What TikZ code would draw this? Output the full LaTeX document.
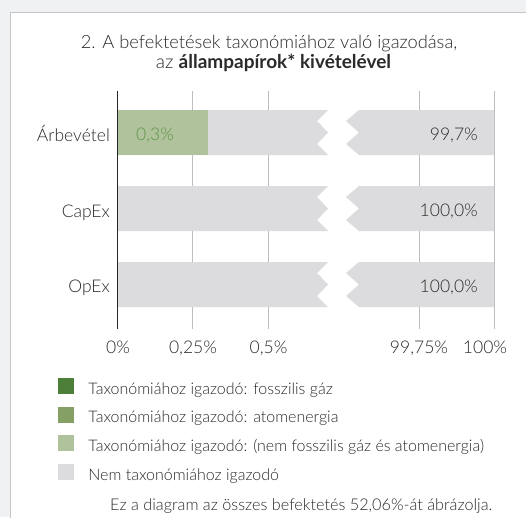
\documentclass[tikz,border=0pt]{standalone}
\usepackage{fontspec}
\setmainfont{Lato}[UprightFont={* Light}, BoldFont={* Bold}]
\usetikzlibrary{positioning}

\definecolor{fossil}{HTML}{4E7F3A}
\definecolor{nuclear}{HTML}{84A064}
\definecolor{aligned}{HTML}{B0C29C}
\definecolor{notaligned}{HTML}{DCDCDE}
\definecolor{valuegreen}{HTML}{5E9546}
\definecolor{pagegray}{HTML}{F0F1F3}
\definecolor{framegray}{HTML}{C6C6C8}
\definecolor{gridgray}{HTML}{BDBDBF}
\definecolor{textgray}{HTML}{2A2A2A}

\tikzset{
    rowlabel/.style={anchor=base east, inner sep=0pt, font=\fontsize{17.5}{20}\selectfont, text=textgray},
    valuelabel/.style={anchor=base east, inner sep=0pt, font=\fontsize{17.5}{20}\selectfont, text=textgray},
    ticklabel/.style={anchor=base, inner sep=0pt, font=\fontsize{17.5}{20}\selectfont, text=textgray},
    legendbox/.style={minimum size=16pt, inner sep=0pt},
    legendtext/.style={right=14pt of #1.south east, anchor=base west, inner sep=0pt,
        font=\fontsize{16}{18}\selectfont, text=textgray},
    gridline/.style={draw=gridgray, line width=1pt},
}

\begin{document}
\begin{tikzpicture}[x=1pt, y=-1pt]
    \useasboundingbox (0, 0) rectangle (526, 517);
    \fill [pagegray] (0, 0) rectangle (526, 517);
    \filldraw [fill=white, draw=framegray, line width=1pt] (10, 12) rectangle (540, 530);

    % title
    \node [anchor=base, inner sep=0pt, text=textgray, font=\fontsize{18.3}{20}\selectfont] (title) at (269, 48.3)
        {2. A befektetések taxonómiához való igazodása,};
    \node [anchor=base, inner sep=0pt, text=textgray, font=\fontsize{19}{20}\selectfont] (subtitle) at (273.5, 68.3)
        {az \textbf{állampapírok* kivételével}};

    % grid
    \foreach \x in {192.7, 268.3, 419, 494}
        \draw [gridline] (\x, 91) -- (\x, 329);

    % bars with axis break
    \foreach \y in {110, 186, 262} {
        \fill [notaligned] (117.7, \y) -- (328, \y) -- (317, \y+11) -- (328, \y+22.5) -- (317, \y+34)
            -- (328, \y+45) -- (117.7, \y+45) -- cycle;
        \fill [notaligned] (494, \y) -- (359, \y) -- (346, \y+11) -- (359, \y+22.5) -- (346, \y+34)
            -- (359, \y+45) -- (494, \y+45) -- cycle;
    }
    \fill [aligned] (117.7, 110) rectangle (207.9, 155);

    \draw [line width=1.2pt, black!85] (117.7, 91) -- (117.7, 329);

    % rows
    \node [rowlabel] (arb) at (110, 141.5) {Árbevétel};
    \node [rowlabel] (capex) at (110, 217) {CapEx};
    \node [rowlabel] (opex) at (110, 292.5) {OpEx};

    \node [anchor=base west, inner sep=0pt, text=valuegreen, font=\fontsize{17.5}{20}\selectfont] (varb)
        at (136, 140.5) {0,3\%};
    \node [valuelabel] (rarb) at (478, 140.5) {99,7\%};
    \node [valuelabel] (rcapex) at (478, 216.5) {100,0\%};
    \node [valuelabel] (ropex) at (478, 292) {100,0\%};

    % axis ticks
    \node [ticklabel] (t0) at (118, 353.3) {0\%};
    \node [ticklabel] (t1) at (193, 353.3) {0,25\%};
    \node [ticklabel] (t2) at (268.5, 353.3) {0,5\%};
    \node [ticklabel] (t3) at (419, 353.3) {99,75\%};
    \node [ticklabel] (t4) at (485, 353.3) {100\%};

    % legend
    \node [legendbox, fill=fossil] (kfos) at (66, 386) {};
    \node [legendbox, fill=nuclear] (knuc) at (66, 414.5) {};
    \node [legendbox, fill=aligned] (kali) at (66, 443.2) {};
    \node [legendbox, fill=notaligned] (knot) at (66, 472) {};
    \node [legendtext=kfos] (lfos) {Taxonómiához igazodó: fosszilis gáz};
    \node [legendtext=knuc] (lnuc) {Taxonómiához igazodó: atomenergia};
    \node [legendtext=kali] (lali) {Taxonómiához igazodó: (nem fosszilis gáz és atomenergia)};
    \node [legendtext=knot] (lnot) {Nem taxonómiához igazodó};

    \node [anchor=base west, inner sep=0pt, text=textgray, font=\fontsize{16.2}{18}\selectfont] (note) at (110, 510)
        {Ez a diagram az összes befektetés 52,06\%-át ábrázolja.};
\end{tikzpicture}
\end{document}
